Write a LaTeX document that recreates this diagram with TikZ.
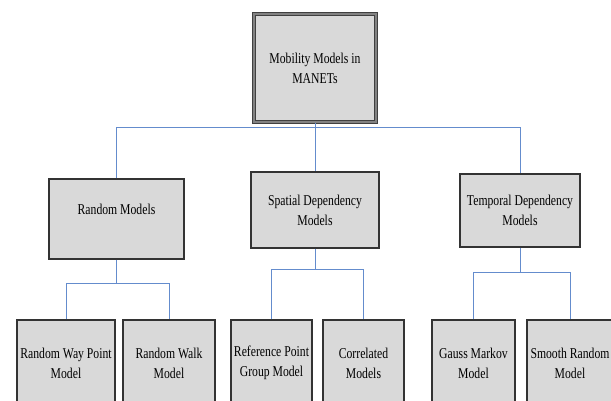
\documentclass[tikz,border=0pt]{standalone}
\usepackage{fontspec}
\setmainfont{Liberation Serif}[FakeStretch=0.78]
\usepackage{xcolor}
\definecolor{boxgray}{RGB}{217,217,217}
\definecolor{linkblue}{RGB}{100,140,205}
\usetikzlibrary{positioning}

\begin{document}
\begin{tikzpicture}[x=1pt,y=-1pt,
  model/.style={draw=black!80,line width=1.1pt,fill=boxgray,align=center,inner sep=0pt,
    font=\fontsize{15}{20}\selectfont},
  rootbox/.style={model,draw=black!75,double=boxgray!60!black,double distance=1.2pt,line width=1.1pt},
  link/.style={draw=linkblue,line width=1pt}]
\useasboundingbox (0,0) rectangle (611,401);
\clip (0,0) rectangle (611,401);

%root
\node[rootbox,minimum width=122,minimum height=108] (root) at (315,68) {Mobility Models in\\MANETs};

%second level
\node[model,minimum width=135,minimum height=80] (random) at (116.5,219) {Random Models\\\mbox{}};
\node[model,minimum width=128,minimum height=76] (spatial) at (315,210) {Spatial Dependency\\Models};
\node[model,minimum width=120,minimum height=73] (temporal) at (520,210.5) {Temporal Dependency\\Models};

%leaves
\node[model,minimum width=98,minimum height=86] (rwp) at (66,363) {Random Way Point\\Model};
\node[model,minimum width=92,minimum height=86] (rwalk) at (169,363) {Random Walk\\Model};
\node[model,minimum width=81,minimum height=86] (rpgm) at (271.5,363) {Reference Point\\Group Model};
\node[model,minimum width=81,minimum height=86] (corr) at (363.5,363) {Correlated\\Models};
\node[model,minimum width=83,minimum height=86] (gauss) at (473.5,363) {Gauss Markov\\Model};
\node[model,minimum width=86,minimum height=86] (smooth) at (570,363) {Smooth Random\\Model};

%root bus
\draw[link] (root.south) -- ++(0,5) coordinate (rootbus);
\draw[link] (random.north) |- (rootbus) -| (temporal.north);
\draw[link] (rootbus) -- (spatial.north);

%random bus
\draw[link] (random.south) -- ++(0,24) coordinate (randbus);
\draw[link] (rwp.north) |- (randbus) -| (rwalk.north);

%spatial bus
\draw[link] (spatial.south) -- ++(0,21) coordinate (spatbus);
\draw[link] (rpgm.north) |- (spatbus) -| (corr.north);

%temporal bus
\draw[link] (temporal.south) -- ++(0,25) coordinate (tempbus);
\draw[link] (gauss.north) |- (tempbus) -| (smooth.north);
\end{tikzpicture}
\end{document}
